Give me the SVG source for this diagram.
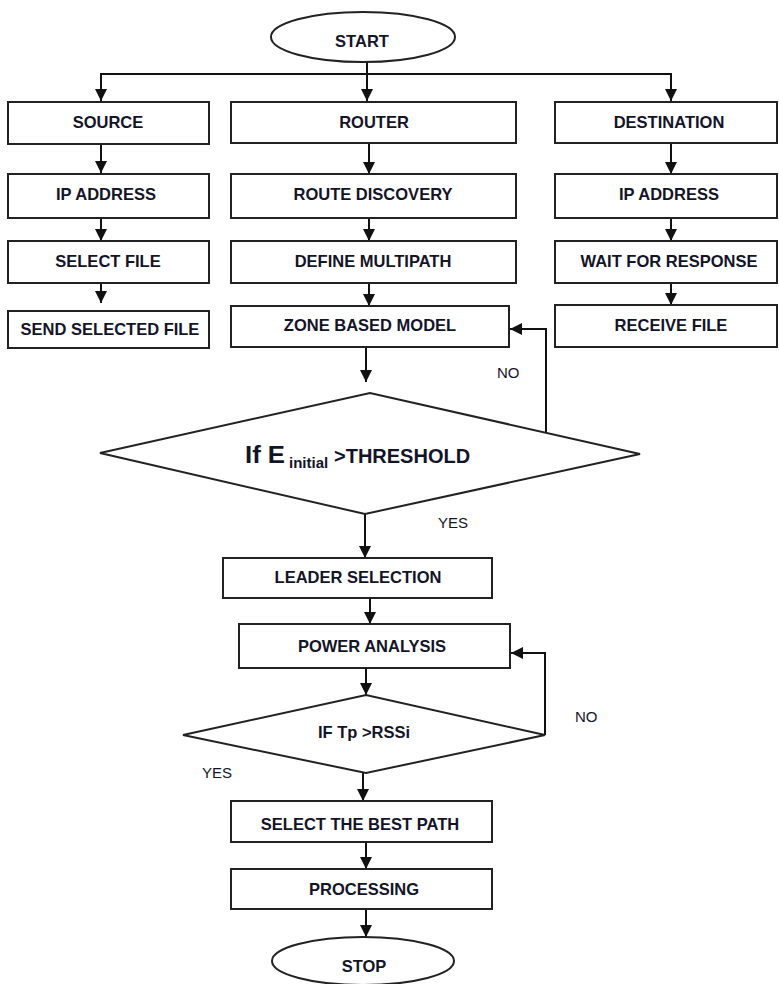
<svg xmlns="http://www.w3.org/2000/svg" width="779" height="984" viewBox="0 0 779 984">
<defs>
<marker id="ah" markerUnits="userSpaceOnUse" markerWidth="12" markerHeight="12" viewBox="0 0 12 12" refX="12" refY="6" orient="auto">
<path d="M0,0 L12,6 L0,12 z" fill="#111"/>
</marker>
</defs>
<style>
.n rect, .n ellipse, .n polygon { fill: #fff; stroke: #222; stroke-width: 2; }
.c line, .c polyline { stroke: #111; stroke-width: 2; fill: none; }
.a { marker-end: url(#ah); }
text { font-family: "Liberation Sans", Arial, sans-serif; fill: #141428; }
.t { font-size: 16.5px; font-weight: bold; text-anchor: middle; }
.l { font-size: 15px; }
</style>
<rect width="779" height="984" fill="#fff"/>

<g class="c" id="connectors">
<line x1="367" y1="62" x2="367" y2="101" class="a"/>
<polyline points="101,101 101,74 671,74 671,101"/>
<line x1="101" y1="74" x2="101" y2="101" class="a"/>
<line x1="671" y1="74" x2="671" y2="101" class="a"/>
<line x1="101" y1="145" x2="101" y2="173" class="a"/>
<line x1="101" y1="218" x2="101" y2="241" class="a"/>
<line x1="101" y1="283" x2="101" y2="303" class="a"/>
<line x1="369" y1="143" x2="369" y2="174" class="a"/>
<line x1="369" y1="218" x2="369" y2="241" class="a"/>
<line x1="369" y1="283" x2="369" y2="306" class="a"/>
<line x1="671" y1="143" x2="671" y2="174" class="a"/>
<line x1="671" y1="218" x2="671" y2="241" class="a"/>
<line x1="671" y1="283" x2="671" y2="305" class="a"/>
<line x1="366" y1="347" x2="366" y2="382" class="a"/>
<polyline points="546,432 546,329 510,329" class="a"/>
<line x1="365" y1="514" x2="365" y2="558" class="a"/>
<line x1="370" y1="598" x2="370" y2="624" class="a"/>
<line x1="366" y1="668" x2="366" y2="695" class="a"/>
<polyline points="545,735 545,653 511,653" class="a"/>
<line x1="363" y1="773" x2="363" y2="801" class="a"/>
<line x1="366" y1="842" x2="366" y2="869" class="a"/>
<line x1="366" y1="909" x2="366" y2="937" class="a"/>
</g>

<g class="n">
<g id="start"><ellipse cx="363" cy="37" rx="92" ry="25"/><text class="t" x="362" y="47">START</text></g>

<g id="source"><rect x="8" y="102" width="201" height="42"/><text class="t" x="108" y="128">SOURCE</text></g>
<g id="router"><rect x="231" y="102" width="285" height="41"/><text class="t" x="374" y="128">ROUTER</text></g>
<g id="destination"><rect x="555" y="102" width="222" height="41"/><text class="t" x="669" y="128">DESTINATION</text></g>

<g id="src-ip"><rect x="8" y="174" width="201" height="44"/><text class="t" x="106" y="200">IP ADDRESS</text></g>
<g id="route-discovery"><rect x="231" y="174" width="285" height="44"/><text class="t" x="373" y="200">ROUTE DISCOVERY</text></g>
<g id="dst-ip"><rect x="555" y="174" width="222" height="44"/><text class="t" x="669" y="200">IP ADDRESS</text></g>

<g id="select-file"><rect x="8" y="241" width="201" height="42"/><text class="t" x="108" y="267">SELECT FILE</text></g>
<g id="define-multipath"><rect x="231" y="241" width="285" height="42"/><text class="t" x="373" y="267">DEFINE MULTIPATH</text></g>
<g id="wait-response"><rect x="555" y="241" width="222" height="42"/><text class="t" x="669" y="267">WAIT FOR RESPONSE</text></g>

<g id="send-file"><rect x="8" y="311" width="201" height="37"/><text class="t" x="110" y="335">SEND SELECTED FILE</text></g>
<g id="zone-model"><rect x="231" y="306" width="278" height="41"/><text class="t" x="370" y="331">ZONE BASED MODEL</text></g>
<g id="receive-file"><rect x="555" y="305" width="222" height="42"/><text class="t" x="671" y="331">RECEIVE FILE</text></g>

<g id="threshold-decision">
<polygon points="100,453 370,393 640,454 365,514"/>
<text x="245" y="463" font-size="23" font-weight="bold" textLength="40" lengthAdjust="spacingAndGlyphs">If E</text>
<text x="289" y="468" font-size="15" font-weight="bold">initial</text>
<text x="334" y="463" font-size="20" font-weight="bold">&gt;THRESHOLD</text>
</g>

<g id="leader-selection"><rect x="223" y="558" width="269" height="40"/><text class="t" x="358" y="583">LEADER SELECTION</text></g>
<g id="power-analysis"><rect x="239" y="624" width="271" height="44"/><text class="t" x="372" y="652">POWER ANALYSIS</text></g>

<g id="rssi-decision">
<polygon points="183,735 366,695 545,735 366,773"/>
<text class="t" x="364" y="738">IF Tp &gt;RSSi</text>
</g>

<g id="best-path"><rect x="231" y="801" width="261" height="41"/><text class="t" x="360" y="830">SELECT THE BEST PATH</text></g>
<g id="processing"><rect x="231" y="869" width="261" height="40"/><text class="t" x="364" y="895">PROCESSING</text></g>
<g id="stop"><ellipse cx="363" cy="961" rx="91" ry="24"/><text class="t" x="364" y="972">STOP</text></g>
</g>

<g id="labels">
<text class="l" x="497" y="378">NO</text>
<text class="l" x="438" y="528">YES</text>
<text class="l" x="575" y="722">NO</text>
<text class="l" x="202" y="778">YES</text>
</g>
</svg>
